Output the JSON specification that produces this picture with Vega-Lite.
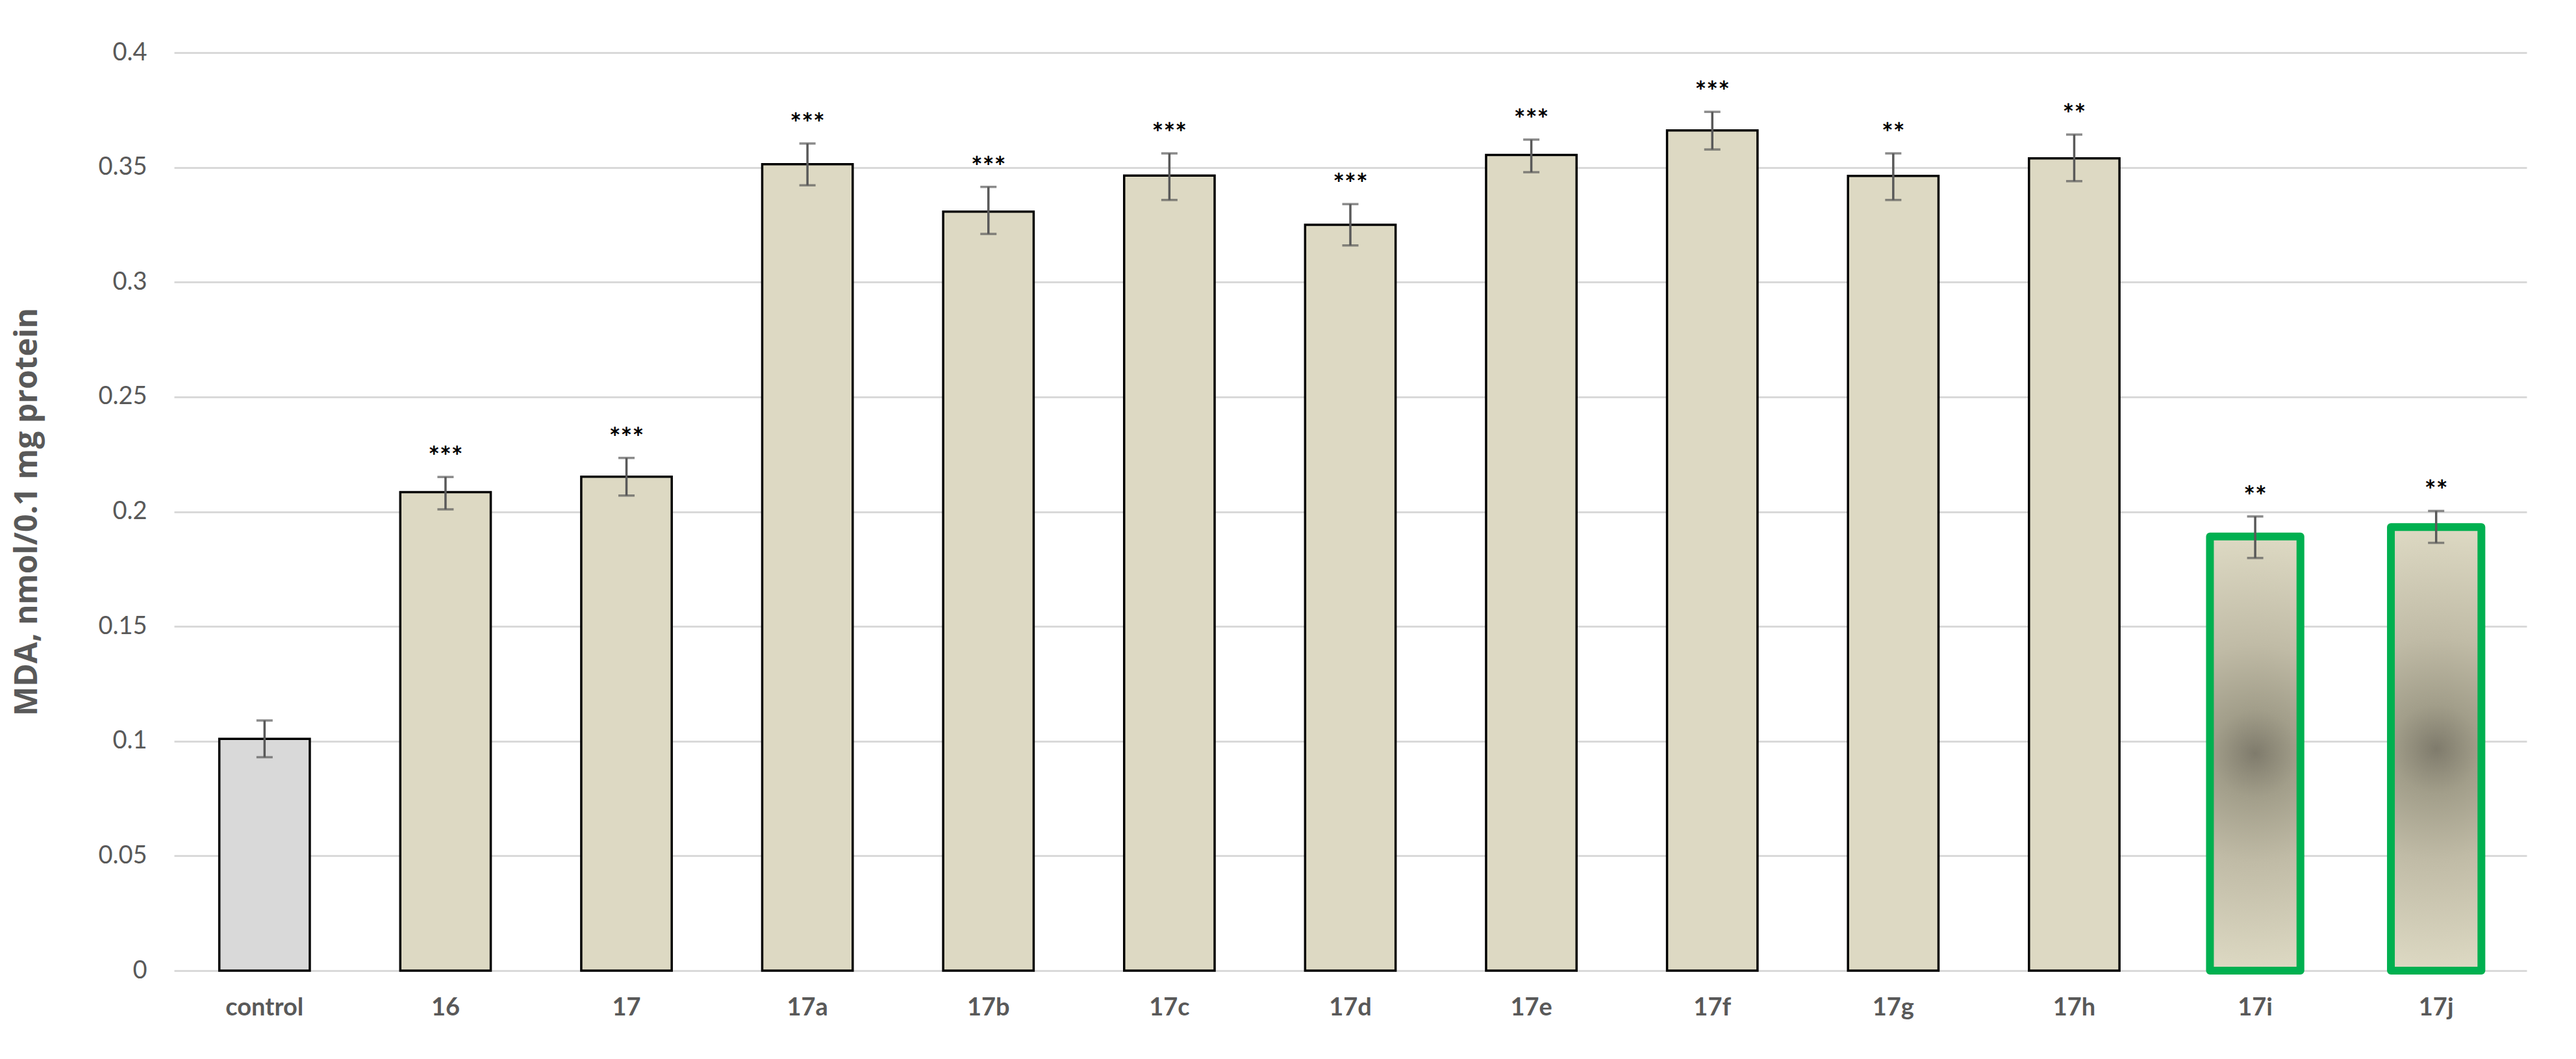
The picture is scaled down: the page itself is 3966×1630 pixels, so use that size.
{
  "$schema": "https://vega.github.io/schema/vega-lite/v6.json",
  "width": 3622,
  "height": 1413,
  "autosize": {"type": "none"},
  "padding": {"left": 268, "top": 81, "right": 76, "bottom": 136},
  "background": "white",
  "config": {
    "view": {"stroke": null},
    "font": "Lato",
    "axis": {
      "labelFont": "Lato",
      "titleFont": "Open Sans",
      "labelColor": "#595959",
      "titleColor": "#595959",
      "gridColor": "#D9D9D9",
      "gridWidth": 3,
      "domain": false,
      "ticks": false,
      "tickSize": 0
    }
  },
  "data": {
    "values": [
      {"compound": "control", "value": 0.101, "lo": 0.093, "hi": 0.109, "stars": ""},
      {"compound": "16", "value": 0.2085, "lo": 0.201, "hi": 0.2151, "stars": "***"},
      {"compound": "17", "value": 0.2152, "lo": 0.207, "hi": 0.2234, "stars": "***"},
      {"compound": "17a", "value": 0.3514, "lo": 0.3422, "hi": 0.3604, "stars": "***"},
      {"compound": "17b", "value": 0.3307, "lo": 0.321, "hi": 0.3415, "stars": "***"},
      {"compound": "17c", "value": 0.3464, "lo": 0.3358, "hi": 0.3561, "stars": "***"},
      {"compound": "17d", "value": 0.325, "lo": 0.316, "hi": 0.334, "stars": "***"},
      {"compound": "17e", "value": 0.3554, "lo": 0.3479, "hi": 0.3621, "stars": "***"},
      {"compound": "17f", "value": 0.3661, "lo": 0.3578, "hi": 0.3742, "stars": "***"},
      {"compound": "17g", "value": 0.3463, "lo": 0.3358, "hi": 0.3561, "stars": "**"},
      {"compound": "17h", "value": 0.3539, "lo": 0.344, "hi": 0.3643, "stars": "**"},
      {"compound": "17i", "value": 0.1892, "lo": 0.1798, "hi": 0.1979, "stars": "**"},
      {"compound": "17j", "value": 0.1933, "lo": 0.1864, "hi": 0.2003, "stars": "**"}
    ]
  },
  "encoding": {
    "x": {
      "field": "compound",
      "type": "nominal",
      "sort": null,
      "scale": {"paddingInner": 0.5, "paddingOuter": 0.25},
      "axis": {
        "title": null,
        "grid": false,
        "labelAngle": 0,
        "labelFontSize": 38,
        "labelFontWeight": "bold",
        "labelBaseline": "alphabetic",
        "labelPadding": 68
      }
    }
  },
  "layer": [
    {
      "transform": [{"filter": "datum.compound !== '17i' && datum.compound !== '17j'"}],
      "mark": {"type": "bar", "stroke": "#000000", "strokeWidth": 3.5},
      "encoding": {
        "y": {
          "field": "value",
          "type": "quantitative",
          "scale": {"domain": [0, 0.4]},
          "axis": {
            "title": "MDA, nmol/0.1 mg protein",
            "grid": true,
            "values": [0, 0.05, 0.1, 0.15, 0.2, 0.25, 0.3, 0.35, 0.4],
            "format": ".2~f",
            "labelFontSize": 38,
            "labelPadding": 42,
            "titleFontSize": 48,
            "titleFontWeight": "bold",
            "titlePadding": 84
          }
        },
        "fill": {
          "condition": {"test": "datum.compound === 'control'", "value": "#D9D9D9"},
          "value": "#DDD9C3"
        }
      }
    },
    {
      "transform": [{"filter": "datum.compound === '17i' || datum.compound === '17j'"}],
      "mark": {
        "type": "bar",
        "stroke": "#00B050",
        "strokeWidth": 12,
        "strokeJoin": "round",
        "fill": {
          "gradient": "radial",
          "x1": 0.5, "y1": 0.5, "r1": 0,
          "x2": 0.5, "y2": 0.5, "r2": 0.5,
          "stops": [
            {"offset": 0, "color": "#7F7B6C"},
            {"offset": 0.2, "color": "#A29E8A"},
            {"offset": 0.5, "color": "#C0BBA6"},
            {"offset": 1, "color": "#DDD9C3"}
          ]
        }
      },
      "encoding": {
        "y": {
          "field": "value",
          "type": "quantitative",
          "axis": {
            "title": "MDA, nmol/0.1 mg protein",
            "grid": true,
            "values": [0, 0.05, 0.1, 0.15, 0.2, 0.25, 0.3, 0.35, 0.4],
            "format": ".2~f",
            "labelFontSize": 38,
            "labelPadding": 42,
            "titleFontSize": 48,
            "titleFontWeight": "bold",
            "titlePadding": 84
          }
        }
      }
    },
    {
      "mark": {"type": "errorbar", "ticks": true, "size": 25, "thickness": 3.5, "color": "#595959"},
      "encoding": {
        "y": {
          "field": "lo",
          "type": "quantitative",
          "axis": {
            "title": "MDA, nmol/0.1 mg protein",
            "grid": true,
            "values": [0, 0.05, 0.1, 0.15, 0.2, 0.25, 0.3, 0.35, 0.4],
            "format": ".2~f",
            "labelFontSize": 38,
            "labelPadding": 42,
            "titleFontSize": 48,
            "titleFontWeight": "bold",
            "titlePadding": 84
          }
        },
        "y2": {"field": "hi"}
      }
    },
    {
      "mark": {"type": "text", "fontWeight": "bold", "fontSize": 42, "color": "#000000", "baseline": "alphabetic", "dy": -16, "font": "Lato"},
      "encoding": {
        "y": {
          "field": "hi",
          "type": "quantitative",
          "axis": {
            "title": "MDA, nmol/0.1 mg protein",
            "grid": true,
            "values": [0, 0.05, 0.1, 0.15, 0.2, 0.25, 0.3, 0.35, 0.4],
            "format": ".2~f",
            "labelFontSize": 38,
            "labelPadding": 42,
            "titleFontSize": 48,
            "titleFontWeight": "bold",
            "titlePadding": 84
          }
        },
        "text": {"field": "stars"}
      }
    }
  ]
}
